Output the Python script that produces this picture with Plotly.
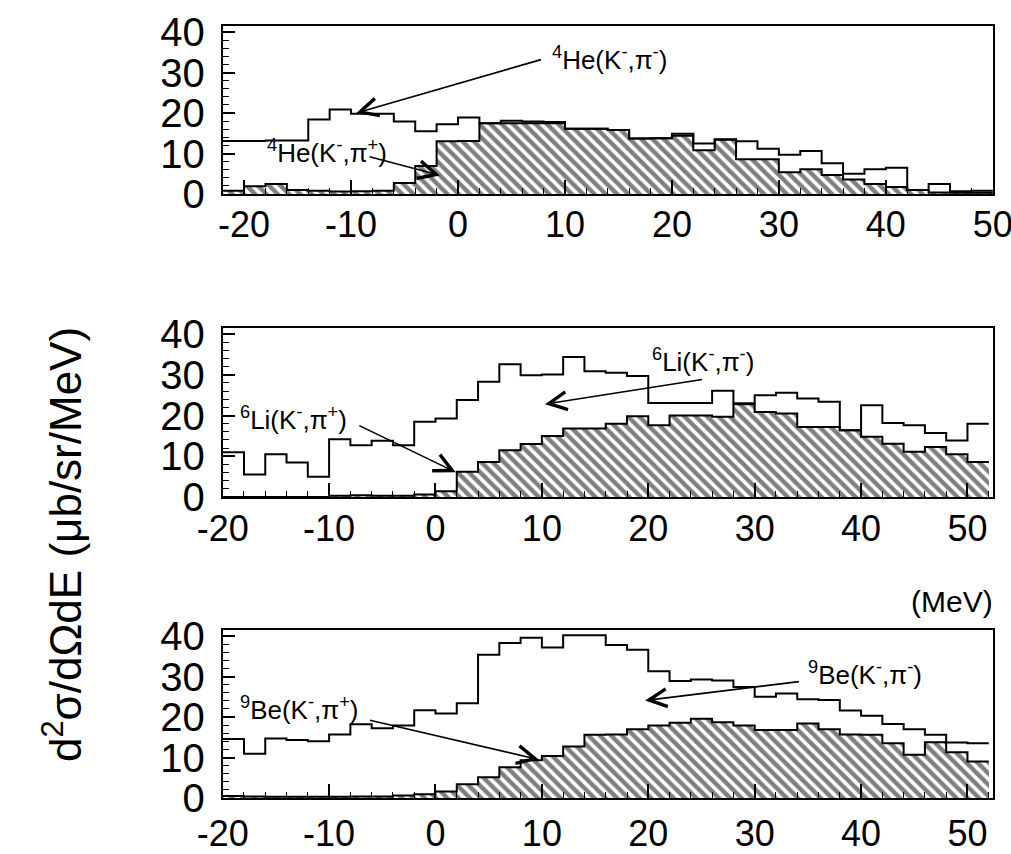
import plotly.graph_objects as go

# ---------------- data (2 MeV bins, values in ub/sr/MeV) ----------------
bin_width = 2
he_edges = list(range(-22, 50, 2))          # left edges, 4He panel
li_edges = list(range(-20, 52, 2))          # left edges, 6Li panel
be_edges = list(range(-20, 52, 2))          # left edges, 9Be panel

he_pim = [13.1, 13.1, 13.2, 13.2, 18.4, 20.9, 19.8, 19.8, 17.9, 15.5, 17.2, 18.9,
          17.5, 18.1, 17.9, 17.8, 16.1, 16.1, 15.8, 13.7, 13.8, 14.9, 12.5, 13.5,
          13.0, 11.2, 9.7, 10.6, 7.6, 5.0, 6.1, 6.5, 1.0, 2.5, 0.7, 0.8]
he_pip = [0.8, 1.9, 2.5, 1.0, 0.8, 0.6, 0.7, 0.8, 2.7, 6.9, 13.0, 13.1,
          17.5, 17.5, 17.5, 17.5, 16.1, 16.1, 15.8, 13.7, 13.8, 14.4, 10.8, 13.4,
          8.6, 8.6, 5.4, 6.1, 4.7, 3.6, 2.5, 1.7, 1.0, 0.4, 0.3, 0.3]

li_pim = [11.0, 5.5, 10.5, 8.5, 5.0, 14.2, 12.7, 13.8, 12.7, 18.5, 19.3, 23.8,
          28.3, 32.6, 29.9, 30.1, 34.4, 30.9, 30.5, 29.7, 23.1, 23.1, 23.1, 26.1,
          23.0, 25.0, 25.6, 24.2, 23.4, 16.4, 22.5, 18.2, 17.6, 15.7, 13.9, 18.0]
li_pip = [0.0, 0.0, 0.0, 0.0, 0.0, 0.3, 0.4, 0.3, 0.3, 0.6, 1.4, 6.2,
          8.6, 11.5, 13.0, 15.0, 16.8, 16.8, 18.0, 19.8, 17.6, 20.0, 20.0, 19.7,
          22.8, 20.9, 20.5, 17.2, 17.2, 16.4, 14.8, 13.1, 11.1, 12.3, 10.5, 8.6]

be_pim = [14.6, 10.9, 14.7, 14.3, 14.0, 15.7, 18.2, 17.2, 17.9, 21.7, 20.9, 23.4,
          35.4, 38.3, 39.6, 37.2, 40.2, 40.2, 37.8, 36.6, 31.3, 28.9, 29.3, 29.0,
          27.4, 25.0, 25.8, 24.4, 24.2, 21.6, 20.3, 18.3, 17.0, 15.6, 13.7, 13.5]
be_pip = [0.5, 0.4, 0.3, 0.3, 0.3, 0.3, 0.4, 0.4, 0.6, 0.9, 1.6, 3.4,
          5.1, 7.6, 9.3, 10.4, 12.7, 15.6, 15.7, 17.0, 17.9, 18.6, 19.6, 18.7,
          17.9, 16.8, 16.8, 18.4, 17.0, 15.7, 15.6, 13.5, 10.7, 13.8, 11.3, 9.0]

x_ticks = [-20, -10, 0, 10, 20, 30, 40, 50]
x_ticktext = ["-20", "-10", "0", "10", "20", "30", "40", "50"]
y_ticks = [0, 10, 20, 30, 40]

labels = {
    "he_m": "<sup>4</sup>He(K<sup>-</sup>,π<sup>-</sup>)",
    "he_p": "<sup>4</sup>He(K<sup>-</sup>,π<sup>+</sup>)",
    "li_m": "<sup>6</sup>Li(K<sup>-</sup>,π<sup>-</sup>)",
    "li_p": "<sup>6</sup>Li(K<sup>-</sup>,π<sup>+</sup>)",
    "be_m": "<sup>9</sup>Be(K<sup>-</sup>,π<sup>-</sup>)",
    "be_p": "<sup>9</sup>Be(K<sup>-</sup>,π<sup>+</sup>)",
}

FONT = "Liberation Sans, Arial, Helvetica, sans-serif"
W, H = 1011, 854

fig = go.Figure()

panels = [
    (he_edges, he_pim, he_pip, ""),
    (li_edges, li_pim, li_pip, "2"),
    (be_edges, be_pim, be_pip, "3"),
]

for edges, pim, pip, s in panels:
    xa, ya = "x" + s, "y" + s
    centers = [e + bin_width / 2 for e in edges]
    fig.add_trace(go.Bar(
        x=centers, y=pip, width=bin_width, xaxis=xa, yaxis=ya,
        marker=dict(color="white", line=dict(width=0),
                    pattern=dict(shape="\\", fgcolor="black", bgcolor="white",
                                 size=8, solidity=0.55)),
        hoverinfo="skip"))
    xs = list(edges) + [edges[-1] + bin_width]
    fig.add_trace(go.Scatter(
        x=xs, y=list(pip) + [pip[-1]], mode="lines", line_shape="hv",
        line=dict(color="black", width=2), xaxis=xa, yaxis=ya, hoverinfo="skip"))
    fig.add_trace(go.Scatter(
        x=xs, y=list(pim) + [pim[-1]], mode="lines", line_shape="hv",
        line=dict(color="black", width=2), xaxis=xa, yaxis=ya, hoverinfo="skip"))

xdom = [222.7 / W, 993 / W]
def ydom(base_px, top_px):
    return [1 - base_px / H, 1 - top_px / H]

def xaxis(rng, standoff, anchor):
    return dict(domain=xdom, range=rng, anchor=anchor, automargin=False,
                showline=True, mirror=True,
                linecolor="black", linewidth=2, ticks="inside", ticklen=14,
                tickwidth=1.5, tickcolor="black", tickvals=x_ticks,
                ticktext=x_ticktext, showgrid=False, ticklabeloverflow="allow",
                zeroline=False, ticklabelstandoff=standoff,
                tickfont=dict(family=FONT, size=36, color="black"),
                minor=dict(dtick=2, ticks="inside", ticklen=6, tickcolor="black",
                           tickwidth=1.2, showgrid=False))

def yaxis(dom, anchor):
    return dict(domain=dom, range=[0, 41.5], anchor=anchor, automargin=False,
                showline=True, mirror=True,
                linecolor="black", linewidth=2, ticks="inside", ticklen=12,
                tickwidth=1.5, tickcolor="black", tickvals=y_ticks, showgrid=False,
                zeroline=False, ticklabelstandoff=8,
                tickfont=dict(family=FONT, size=40, color="black"),
                minor=dict(dtick=2, ticks="inside", ticklen=6, tickcolor="black",
                           tickwidth=1.2, showgrid=False))

fig.update_layout(
    width=W, height=H, margin=dict(l=0, r=0, t=0, b=0, autoexpand=False),
    paper_bgcolor="white", plot_bgcolor="white", showlegend=False,
    bargap=0, barmode="overlay",
    xaxis=xaxis([-22, 50.02], -2, "y"),
    yaxis=yaxis(ydom(194, 26), "x"),
    xaxis2=xaxis([-20, 52.4], -1, "y2"),
    yaxis2=yaxis(ydom(497, 328), "x2"),
    xaxis3=xaxis([-20, 52.4], 3, "y3"),
    yaxis3=yaxis(ydom(798, 630), "x3"),
)

ann = []
def label(text, x, y, s):
    ann.append(dict(text=text, x=x, y=y, xref="x" + s, yref="y" + s, showarrow=False,
                    xanchor="left", yanchor="middle",
                    font=dict(family=FONT, size=26, color="black")))

def arrow(tip, tail, s, head=5):
    ann.append(dict(text="", x=tip[0], y=tip[1], ax=tail[0], ay=tail[1],
                    xref="x" + s, yref="y" + s, axref="x" + s, ayref="y" + s,
                    showarrow=True, arrowhead=head, arrowsize=2.2, arrowwidth=1.6,
                    arrowcolor="black", standoff=0))

# panel 1
label(labels["he_m"], 8.6, 33.5, "")
arrow((-9.5, 20.0), (7.9, 33.3), "")
label(labels["he_p"], -18.0, 10.5, "")
arrow((-1.7, 4.6), (-8.4, 9.3), "")
# panel 2
label(labels["li_m"], 20.2, 33.5, "2")
arrow((10.3, 22.8), (25.2, 28.9), "2")
label(labels["li_p"], -18.6, 19.2, "2")
arrow((1.9, 6.1), (-7.3, 17.7), "2")
# panel 3
label(labels["be_m"], 34.8, 30.7, "3")
arrow((19.7, 24.1), (34.3, 28.8), "3")
label(labels["be_p"], -18.6, 22.0, "3")
arrow((9.7, 9.5), (-6.3, 19.3), "3")

ann.append(dict(text="(MeV)", x=952 / W, y=1 - 601 / H, xref="paper", yref="paper",
                showarrow=False, xanchor="center", yanchor="middle",
                font=dict(family=FONT, size=30, color="black")))
ann.append(dict(text="d<sup>2</sup>σ/dΩdE (μb/sr/MeV)", x=62 / W, y=1 - 545 / H,
                xref="paper", yref="paper", showarrow=False, textangle=-90,
                xanchor="center", yanchor="middle",
                font=dict(family=FONT, size=44, color="black")))
fig.update_layout(annotations=ann)

fig.write_html("out.html")
